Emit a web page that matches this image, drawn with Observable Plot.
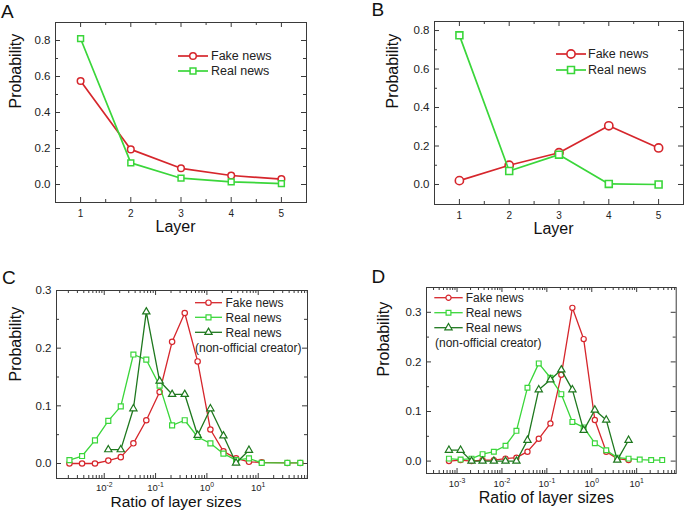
<!DOCTYPE html>
<html><head><meta charset="utf-8">
<script src="https://cdn.jsdelivr.net/npm/d3@7"></script>
<script src="https://cdn.jsdelivr.net/npm/@observablehq/plot@0.6"></script>
<style>
html,body{margin:0;padding:0;background:#fff;}
#root{position:relative;width:685px;height:513px;overflow:hidden;font-family:"Liberation Sans",Arial,sans-serif;}
.panel{position:absolute;}
</style></head><body><div id="root"></div>
<script>
// ---------- data ----------
const layers = [1, 2, 3, 4, 5];
const aFake = [0.575, 0.195, 0.09, 0.05, 0.03];
const aReal = [0.81, 0.12, 0.035, 0.015, 0.005];
const bFake = [0.02, 0.10, 0.165, 0.305, 0.19];
const bReal = [0.775, 0.07, 0.155, 0.003, 0.0];

const cRatio = [0.0021, 0.0037, 0.0066, 0.012, 0.021, 0.037, 0.066, 0.12, 0.21, 0.37, 0.66, 1.17, 2.1, 3.7, 6.6, 11.7, 37, 66];
const cFake  = [0.0, 0.0, 0.0, 0.005, 0.011, 0.035, 0.075, 0.124, 0.211, 0.261, 0.177, 0.059, 0.021, 0.009, 0.003, 0.002, 0.001, 0.001];
const cReal  = [0.006, 0.013, 0.040, 0.074, 0.099, 0.189, 0.180, 0.135, 0.066, 0.075, 0.046, 0.035, 0.017, 0.006, 0.009, 0.001, 0.001, 0.001];
const cRatioNO = [0.012, 0.021, 0.037, 0.066, 0.12, 0.21, 0.37, 0.66, 1.17, 2.1, 3.7, 6.6];
const cRealNO  = [0.024, 0.024, 0.095, 0.263, 0.143, 0.12, 0.12, 0.049, 0.095, 0.048, 0.001, 0.023];

const dRatio = [0.00066, 0.0012, 0.0021, 0.0037, 0.0066, 0.012, 0.021, 0.037, 0.066, 0.12, 0.21, 0.37, 0.66, 1.17, 2.1, 3.7, 6.6, 11.7, 21, 37];
const dFake  = [0.0, 0.002, 0.0, 0.002, 0.002, 0.005, 0.007, 0.019, 0.045, 0.076, 0.174, 0.309, 0.246, 0.083, 0.019, 0.005, 0.002];
const dReal  = [0.005, 0.003, 0.005, 0.014, 0.019, 0.031, 0.061, 0.148, 0.197, 0.168, 0.135, 0.079, 0.068, 0.036, 0.022, 0.007, 0.005, 0.003, 0.002, 0.002];
const dRealNO = [0.022, 0.022, 0.0, 0.0, 0.0, 0.0, 0.0, 0.042, 0.144, 0.164, 0.184, 0.144, 0.062, 0.103, 0.083, 0.002, 0.042];

const probTicksAB = [0, 0.2, 0.4, 0.6, 0.8];
const probMinorAB = [0.1, 0.3, 0.5, 0.7];
const probTicksCD = [0, 0.1, 0.2, 0.3];
const probMinorCD = [0.05, 0.15, 0.25];
const layerMinor = [1.5, 2.5, 3.5, 4.5];
const logTicksC = [0.01, 0.1, 1, 10];
const logTicksD = [0.001, 0.01, 0.1, 1, 10];

const seriesNames = ["Fake news", "Real news", "Real news"];
const creatorNote = "(non-official creator)";
const panelLetters = ["A", "B", "C", "D"];

const RED = "#d6262c", GREEN = "#3ad63a", DKGREEN = "#1e781e", AX = "#3a3a3a";
const FONT = "'Liberation Sans', Arial, sans-serif";

function logMinor(lo, hi) {
  const out = [];
  for (let k = -5; k <= 3; k++) for (let m = 2; m <= 9; m++) {
    const v = m * Math.pow(10, k);
    if (v > lo && v < hi) out.push(v);
  }
  return out;
}

const root = document.getElementById("root");

function makePanel(cfg) {
  const fw = cfg.w - cfg.ml - cfg.mr, fh = cfg.h - cfg.mt - cfg.mb;
  const marks = [];
  marks.push(Plot.frame({stroke: AX, strokeWidth: 1}));
  for (const [vals, len] of [[cfg.yTicks, 5], [cfg.yMinor, 3]]) {
    marks.push(Plot.tickY(vals, {y: d => d, insetRight: fw - len, stroke: AX}));
    marks.push(Plot.tickY(vals, {y: d => d, insetLeft: fw - len, stroke: AX}));
  }
  for (const [vals, len] of [[cfg.xTicks, 5], [cfg.xMinor, 3]]) {
    marks.push(Plot.tickX(vals, {x: d => d, insetTop: fh - len, stroke: AX}));
    marks.push(Plot.tickX(vals, {x: d => d, insetBottom: fh - len, stroke: AX}));
  }
  marks.push(Plot.axisY(cfg.yTicks, {tickSize: 0, tickPadding: 5, tickFormat: d3.format(".1f"), fontSize: 11.5, color: "#222", label: null}));
  marks.push(Plot.axisX(cfg.xTicks, {tickSize: 0, tickPadding: cfg.xPad, tickFormat: cfg.xFormat, fontSize: cfg.xFont, color: "#222", label: null}));
  for (const s of cfg.series) {
    const data = s.x.map((v, i) => ({x: v, y: s.y[i]}));
    marks.push(Plot.line(data, {x: "x", y: "y", stroke: s.color, strokeWidth: cfg.lw}));
    marks.push(Plot.dot(data, {x: "x", y: "y", symbol: s.symbol, r: s.r, stroke: s.color, fill: "white", strokeWidth: cfg.msw}));
  }
  marks.push(Plot.text([cfg.xLabel], {frameAnchor: "bottom", text: d => d, dx: cfg.xlDx, dy: cfg.xlDy, fontSize: cfg.xlFs || 16, fill: "#111"}));
  marks.push(Plot.text(["Probability"], {frameAnchor: "left", text: d => d, rotate: -90, dx: cfg.ylDx, dy: cfg.ylDy, fontSize: 16, fill: "#111"}));

  const svg = Plot.plot({
    width: cfg.w, height: cfg.h,
    marginTop: cfg.mt, marginRight: cfg.mr, marginBottom: cfg.mb, marginLeft: cfg.ml,
    x: Object.assign({domain: cfg.xDomain, axis: null}, cfg.xType ? {type: cfg.xType} : {}),
    y: {domain: cfg.yDomain, axis: null},
    style: {fontFamily: FONT, fontSize: "12px", background: "transparent", overflow: "visible", color: "#222"},
    marks
  });

  // superscript exponents in log tick labels
  svg.querySelectorAll('[aria-label="x-axis tick label"] text').forEach(t => {
    const s = t.textContent;
    if (s.includes("^")) {
      const [base, exp] = s.split("^");
      t.textContent = "";
      const b = document.createElementNS("http://www.w3.org/2000/svg", "tspan");
      b.textContent = base;
      const e = document.createElementNS("http://www.w3.org/2000/svg", "tspan");
      e.textContent = exp;
      e.setAttribute("font-size", (cfg.xFont * 0.72) + "px");
      e.setAttribute("dy", (-cfg.xFont * 0.48) + "px");
      t.appendChild(b); t.appendChild(e);
    }
  });

  // legend
  const g = d3.select(svg).append("g").attr("font-family", FONT).attr("text-anchor", "start");
  const L = cfg.legend;
  cfg.series.forEach((s, i) => {
    const y = L.ys[i];
    g.append("line").attr("x1", L.x1).attr("x2", L.x2).attr("y1", y).attr("y2", y)
      .attr("stroke", s.color).attr("stroke-width", cfg.lw);
    const type = s.symbol === "circle" ? d3.symbolCircle : s.symbol === "square" ? d3.symbolSquare : d3.symbolTriangle;
    g.append("path").attr("d", d3.symbol().type(type).size(Math.PI * s.r * s.r)())
      .attr("transform", `translate(${(L.x1 + L.x2) / 2},${y})`)
      .attr("fill", "white").attr("stroke", s.color).attr("stroke-width", cfg.msw);
    g.append("text").attr("x", L.tx).attr("y", y).attr("dy", "0.35em").attr("text-anchor", "start")
      .attr("font-size", L.fs).attr("fill", "#222").text(seriesNames[i]);
  });
  if (L.noteY) {
    g.append("text").attr("x", L.noteX).attr("y", L.noteY).attr("dy", "0.35em").attr("text-anchor", "start")
      .attr("font-size", L.fs).attr("fill", "#222").text(creatorNote);
  }

  const div = document.createElement("div");
  div.className = "panel";
  div.style.left = cfg.left + "px";
  div.style.top = cfg.top + "px";
  div.appendChild(svg);
  root.appendChild(div);
}

const linFmt = d => String(d);
const logFmt = d => "10^" + Math.round(Math.log10(d));

// Panel A
makePanel({
  left: 0, top: 0, w: 340, h: 255, mt: 22, ml: 55, mr: 34, mb: 53,
  xDomain: [0.5, 5.5], yDomain: [-0.1, 0.9],
  xTicks: layers, xMinor: layerMinor, yTicks: probTicksAB, yMinor: probMinorAB,
  xPad: 7, xFont: 10, xFormat: linFmt, lw: 1.7, msw: 1.5,
  xLabel: "Layer", xlDx: -5.5, xlDy: 29.5, ylDx: -40, ylDy: -4,
  series: [
    {x: layers, y: aFake, color: RED, symbol: "circle", r: 3.3},
    {x: layers, y: aReal, color: GREEN, symbol: "square", r: 3.3}
  ],
  legend: {x1: 178, x2: 208, tx: 211, ys: [56, 71], fs: 12.5}
});

// Panel B
makePanel({
  left: 340, top: 0, w: 345, h: 255, mt: 21, ml: 94, mr: 2, mb: 51,
  xDomain: [0.5, 5.5], yDomain: [-0.104, 0.847],
  xTicks: layers, xMinor: layerMinor, yTicks: probTicksAB, yMinor: probMinorAB,
  xPad: 7, xFont: 10, xFormat: linFmt, lw: 1.7, msw: 1.6,
  xLabel: "Layer", xlDx: -5.5, xlDy: 29, ylDx: -42, ylDy: -4.5,
  series: [
    {x: layers, y: bFake, color: RED, symbol: "circle", r: 4.1},
    {x: layers, y: bReal, color: GREEN, symbol: "square", r: 3.9}
  ],
  legend: {x1: 216, x2: 246, tx: 248, ys: [54, 70], fs: 12.5}
});

// Panel C
const cDom = [Math.pow(10, -2.93), Math.pow(10, 1.96)];
makePanel({
  left: 0, top: 255, w: 340, h: 258, mt: 35, ml: 56, mr: 33, mb: 35,
  xType: "log", xDomain: cDom, yDomain: [-0.026, 0.3],
  xTicks: logTicksC, xMinor: logMinor(cDom[0], cDom[1]), yTicks: probTicksCD, yMinor: probMinorCD,
  xPad: 6.2, xFont: 9.5, xFormat: logFmt, lw: 1.3, msw: 1.2,
  xLabel: "Ratio of layer sizes", xlFs: 15.5, xlDx: -6, xlDy: 28, ylDx: -41, ylDy: -3,
  series: [
    {x: cRatio, y: cFake, color: RED, symbol: "circle", r: 2.7},
    {x: cRatio, y: cReal, color: GREEN, symbol: "square", r: 2.8},
    {x: cRatioNO, y: cRealNO, color: DKGREEN, symbol: "triangle", r: 2.7}
  ],
  legend: {x1: 195, x2: 222, tx: 225.5, ys: [47.7, 62.3, 77.3], fs: 12, noteX: 195, noteY: 92.7}
});

// Panel D
const dDom = [Math.pow(10, -3.68), Math.pow(10, 1.88)];
makePanel({
  left: 340, top: 255, w: 345, h: 258, mt: 32, ml: 86, mr: 9.3, mb: 40,
  xType: "log", xDomain: dDom, yDomain: [-0.025, 0.35],
  xTicks: logTicksD, xMinor: logMinor(dDom[0], dDom[1]), yTicks: probTicksCD, yMinor: probMinorCD,
  xPad: 7.2, xFont: 9.5, xFormat: logFmt, lw: 1.3, msw: 1.2,
  xLabel: "Ratio of layer sizes", xlDx: -5, xlDy: 29.5, ylDx: -42.5, ylDy: -4,
  series: [
    {x: dRatio.slice(0, dFake.length), y: dFake, color: RED, symbol: "circle", r: 2.6},
    {x: dRatio, y: dReal, color: GREEN, symbol: "square", r: 2.7},
    {x: dRatio.slice(0, dRealNO.length), y: dRealNO, color: DKGREEN, symbol: "triangle", r: 2.7}
  ],
  legend: {x1: 94.3, x2: 122.7, tx: 125.7, ys: [42.7, 57.7, 72.7], fs: 12, noteX: 95, noteY: 87.7}
});

// panel letters
const ov = d3.select(root).append("svg").attr("width", 685).attr("height", 513)
  .style("position", "absolute").style("left", "0px").style("top", "0px").style("pointer-events", "none");
const letterPos = [[1, 18], [371.5, 16], [2, 284], [371.5, 283]];
panelLetters.forEach((L, i) => {
  ov.append("text").attr("x", letterPos[i][0]).attr("y", letterPos[i][1])
    .attr("font-family", FONT).attr("font-size", 19).attr("fill", "#111").text(L);
});
</script>
</body></html>
